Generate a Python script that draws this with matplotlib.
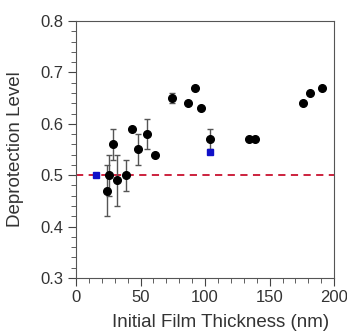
import matplotlib
matplotlib.use('Agg')
import matplotlib.pyplot as plt
from matplotlib.ticker import MultipleLocator

plt.rcParams['font.family'] = ['Liberation Sans', 'DejaVu Sans']

# film data (black circles)
thickness = [23.7, 25.7, 28.3, 31.4, 38.4, 43.2, 48.4, 55.1, 61.3, 74.6,
             86.5, 92.4, 97.0, 103.5, 133.8, 139.0, 176.0, 181.2, 190.5]
deprot = [0.47, 0.50, 0.56, 0.49, 0.50, 0.59, 0.55, 0.58, 0.54, 0.65,
          0.64, 0.67, 0.63, 0.57, 0.57, 0.57, 0.64, 0.66, 0.67]
deprot_err = [0.05, 0.04, 0.03, 0.05, 0.03, 0.0, 0.03, 0.03, 0.0, 0.01,
              0.0, 0.0, 0.0, 0.02, 0.0, 0.0, 0.0, 0.0, 0.0]

# blue squares
sq_thickness = [15.7, 103.5]
sq_deprot = [0.50, 0.546]

ref_level = 0.5

fig = plt.figure(figsize=(3.47, 3.34), dpi=100)
ax = fig.add_axes([0.219, 0.168, 0.744, 0.769])

ax.axhline(ref_level, color='#c8102e', lw=1.3, ls=(0, (4, 3)), zorder=1)

ax.errorbar(thickness, deprot, yerr=deprot_err, fmt='none', ecolor='#555555',
            elinewidth=1.0, capsize=2.5, capthick=1.0, zorder=2)
ax.plot(thickness, deprot, 'o', color='black', ms=5.5, zorder=3)
ax.plot(sq_thickness, sq_deprot, 's', color='#1010c8', ms=5, zorder=4)

ax.set_xlim(0, 200)
ax.set_ylim(0.3, 0.8)
ax.xaxis.set_major_locator(MultipleLocator(50))
ax.xaxis.set_minor_locator(MultipleLocator(10))
ax.yaxis.set_major_locator(MultipleLocator(0.1))
ax.yaxis.set_minor_locator(MultipleLocator(0.02))
ax.tick_params(which='major', length=6, width=0.8, color='#444444',
               labelsize=12, labelcolor='#333333', pad=3)
ax.tick_params(which='minor', length=3.5, width=0.6, color='#444444')
for s in ax.spines.values():
    s.set_color('#555555')
    s.set_linewidth(0.8)

ax.set_xlabel('Initial Film Thickness (nm)', fontsize=13.5, color='#333333')
ax.xaxis.set_label_coords(0.56, -0.14)
ax.set_ylabel('Deprotection Level', fontsize=13.5, color='#333333')
ax.yaxis.set_label_coords(-0.2, 0.5)

fig.savefig('out.png', dpi=100)
